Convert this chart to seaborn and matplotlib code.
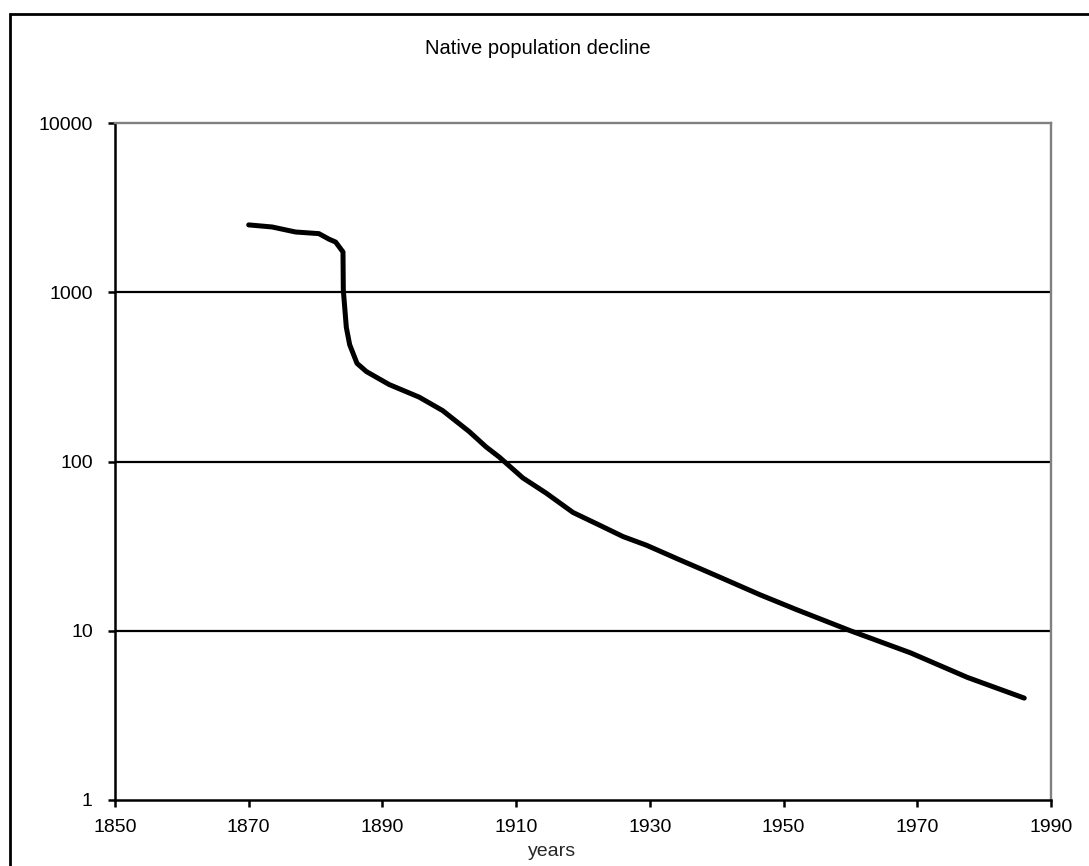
import matplotlib
matplotlib.use("Agg")
import matplotlib.pyplot as plt
from matplotlib.patches import Rectangle
from matplotlib.ticker import FixedLocator, FixedFormatter, NullLocator
import seaborn as sns
import pandas as pd

# Population counts over time (log scale)
years = [1870, 1873.5, 1877, 1880.5, 1882, 1883, 1884.1, 1884.15, 1884.6,
         1885.1, 1886.2, 1887.6, 1891, 1895.5, 1899, 1903, 1905.5, 1907.5,
         1911, 1914.5, 1918.5, 1922.5, 1926, 1929.5, 1934.5, 1937.5, 1940.5,
         1946.5, 1952, 1960, 1969, 1977.5, 1986]
population = [2500, 2430, 2270, 2220, 2060, 1980, 1730, 1030, 620,
              490, 380, 340, 285, 240, 200, 150, 122, 106,
              80, 65, 50, 42, 36, 32, 26.2, 23.3, 20.7,
              16.3, 13.3, 10, 7.4, 5.3, 4]

x_ticks = [1850, 1870, 1890, 1910, 1930, 1950, 1970, 1990]
y_ticks = [1, 10, 100, 1000, 10000]
y_tick_labels = ["1", "10", "100", "1000", "10000"]
grid_levels = [10, 100, 1000]

title_text = "Native population decline"
x_label = "years"

sns.set_style("white")
plt.rcParams["font.family"] = ["Liberation Sans", "DejaVu Sans"]

W, H = 1089, 866
fig = plt.figure(figsize=(W / 100, H / 100), dpi=100)
fig.patch.set_facecolor("white")

ax = fig.add_axes([115 / W, 1 - 800 / H, 936 / W, 677 / H])

df = pd.DataFrame({"year": years, "population": population})

# Gridlines behind the series
for lvl in grid_levels:
    ax.axhline(lvl, color="black", lw=1.6, zorder=1)

sns.lineplot(data=df, x="year", y="population", sort=False, estimator=None,
             color="black", lw=3.6, ax=ax, zorder=3,
             solid_capstyle="round", solid_joinstyle="round")

ax.set_yscale("log")
ax.set_xlim(1850, 1990)
ax.set_ylim(1, 10000)

ax.xaxis.set_major_locator(FixedLocator(x_ticks))
ax.set_xticklabels([str(v) for v in x_ticks])
ax.yaxis.set_major_locator(FixedLocator(y_ticks))
ax.yaxis.set_major_formatter(FixedFormatter(y_tick_labels))
ax.yaxis.set_minor_locator(NullLocator())
ax.xaxis.set_minor_locator(NullLocator())

ax.tick_params(axis="x", direction="out", length=5, width=1.8, pad=9,
               labelsize=14, colors="black", bottom=True)
ax.tick_params(axis="y", direction="out", length=5, width=1.8, pad=11,
               labelsize=14, colors="black", left=True)

for side in ("left", "bottom"):
    ax.spines[side].set_color("black")
    ax.spines[side].set_linewidth(1.8)
for side in ("top", "right"):
    ax.spines[side].set_color("#808080")
    ax.spines[side].set_linewidth(1.7)
    ax.spines[side].set_visible(True)

ax.set_ylabel("")
ax.set_xlabel(x_label, fontsize=14)
ax.xaxis.set_label_coords((552 - 115) / 936, (800 - 852) / 677)
ax.xaxis.label.set_verticalalignment("center")

fig.text(538 / W, 1 - 48 / H, title_text, ha="center", va="center",
         fontsize=14.5, color="black")

# Chart-area frame
fig.patches.append(Rectangle((10 / W, -0.2), 1.5, 1 - 13.8 / H + 0.2,
                             transform=fig.transFigure, fill=False,
                             edgecolor="black", lw=2.0, zorder=10))

fig.savefig("out.png", dpi=100, facecolor="white")
